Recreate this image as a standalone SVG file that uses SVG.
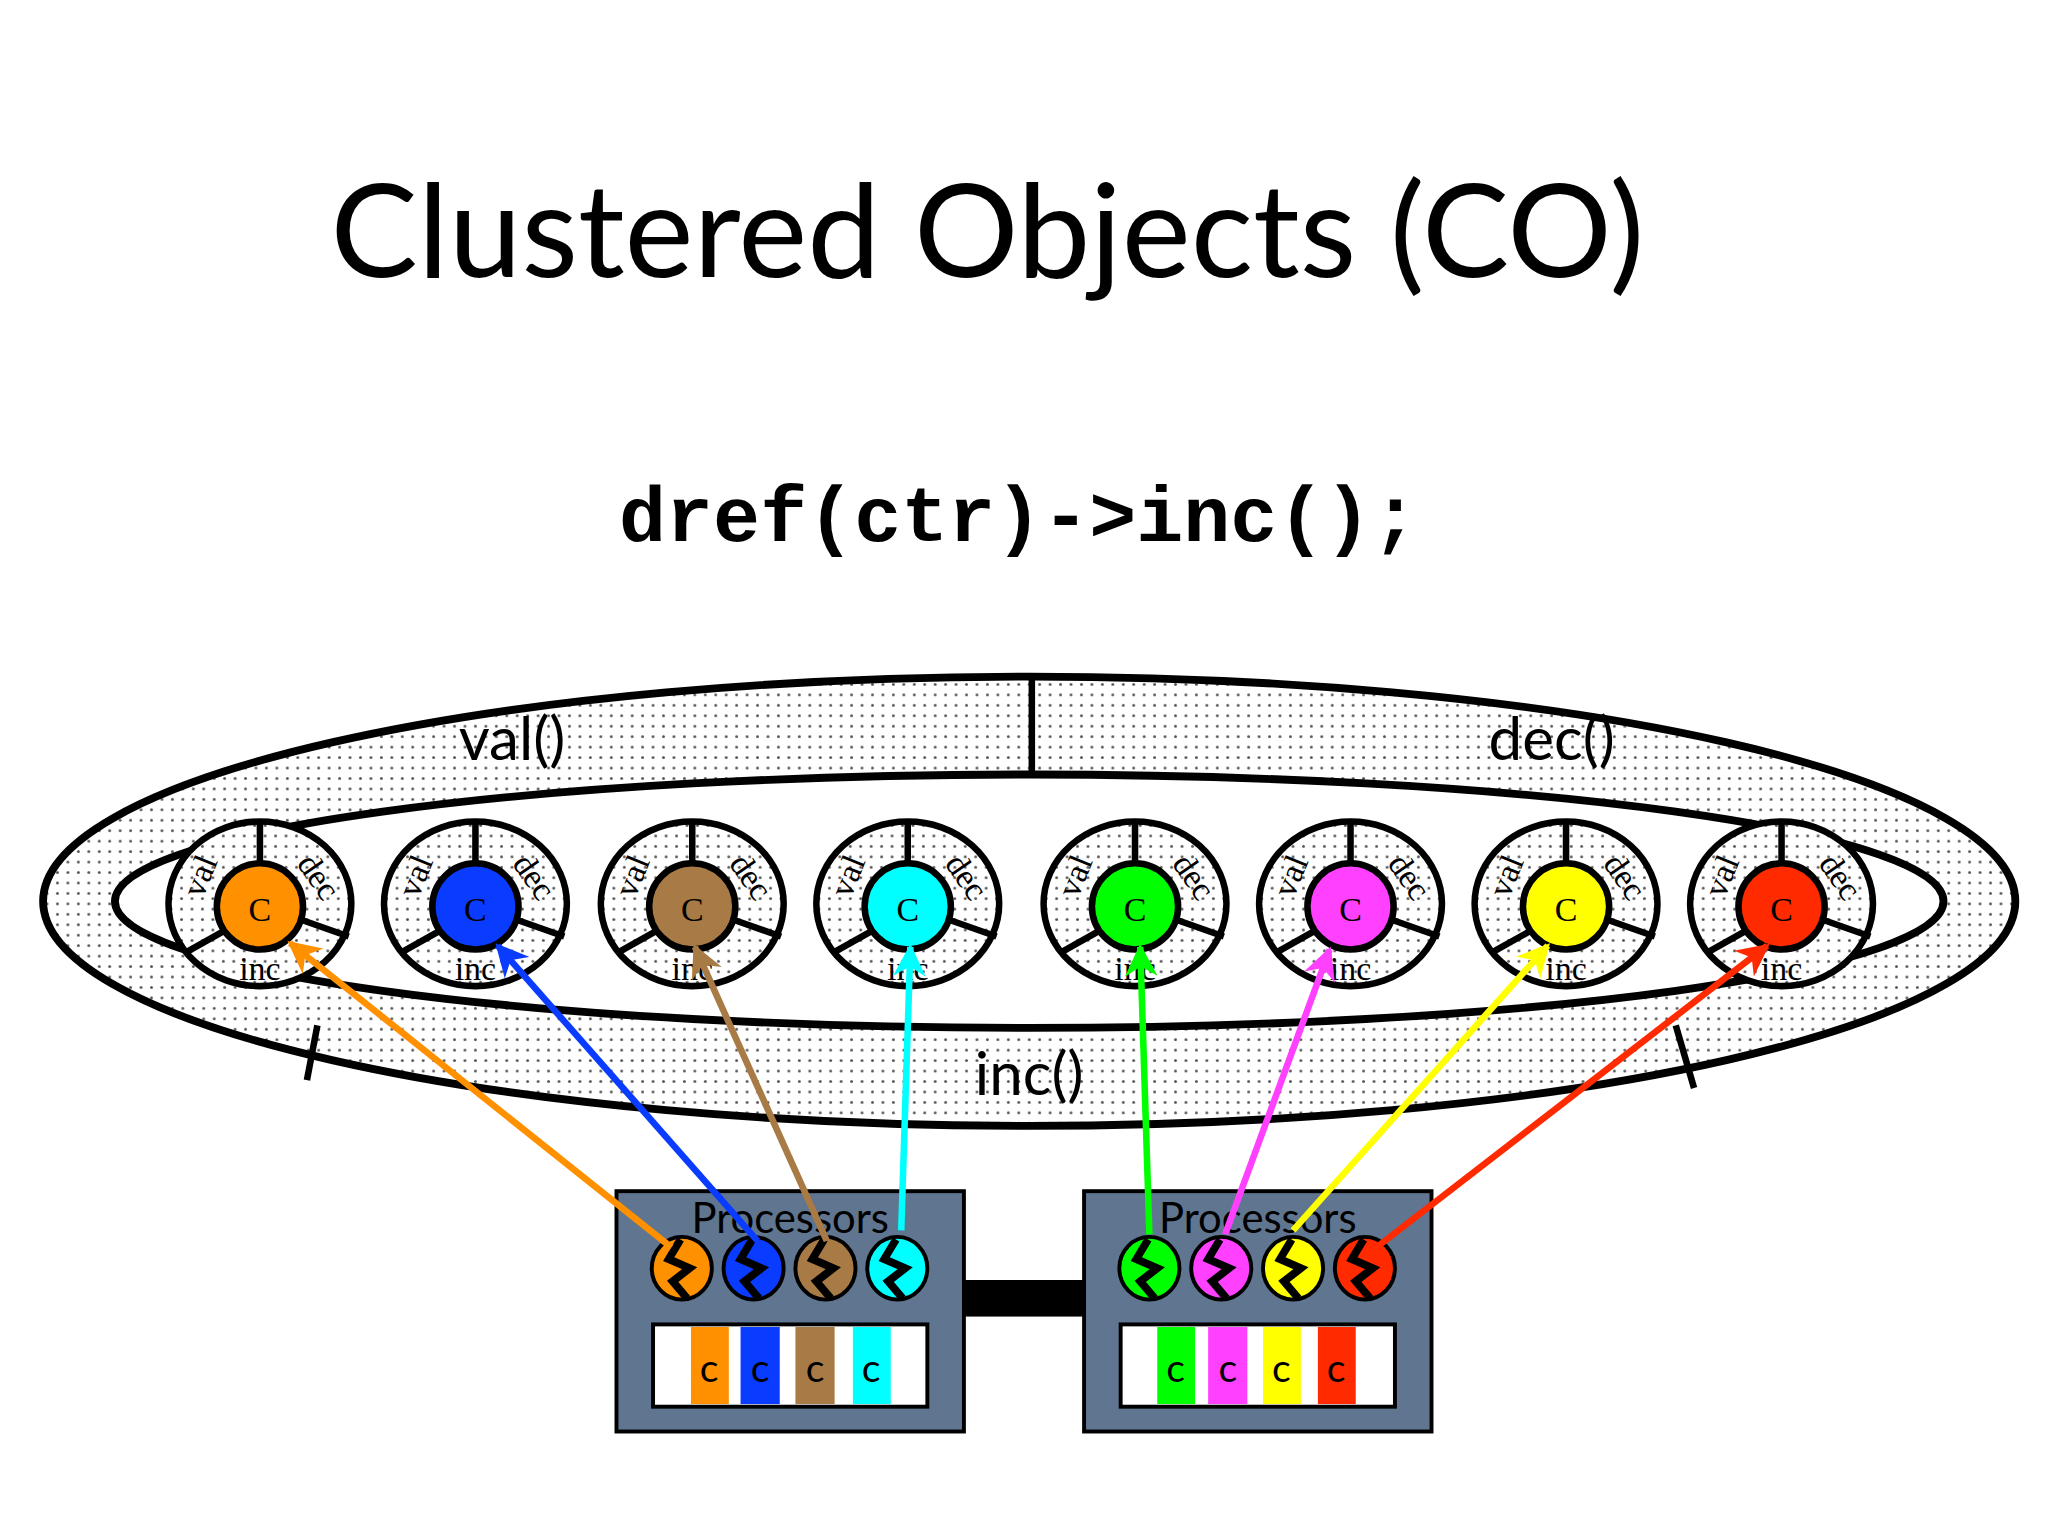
<svg xmlns="http://www.w3.org/2000/svg" width="2048" height="1536" viewBox="0 0 2048 1536">
<defs>
<pattern id="dots" width="8" height="8" patternUnits="userSpaceOnUse"><rect width="8" height="8" fill="#fff"/><circle cx="4" cy="4" r="1.1" fill="#555"/></pattern>
<marker id="m0" viewBox="0 0 10 10" refX="9" refY="5" markerWidth="5" markerHeight="5" orient="auto" markerUnits="strokeWidth"><path d="M0,0 L10,5 L0,10 L3,5z" fill="#ff9000"/></marker>
<marker id="m1" viewBox="0 0 10 10" refX="9" refY="5" markerWidth="5" markerHeight="5" orient="auto" markerUnits="strokeWidth"><path d="M0,0 L10,5 L0,10 L3,5z" fill="#0a3cff"/></marker>
<marker id="m2" viewBox="0 0 10 10" refX="9" refY="5" markerWidth="5" markerHeight="5" orient="auto" markerUnits="strokeWidth"><path d="M0,0 L10,5 L0,10 L3,5z" fill="#a87a45"/></marker>
<marker id="m3" viewBox="0 0 10 10" refX="9" refY="5" markerWidth="5" markerHeight="5" orient="auto" markerUnits="strokeWidth"><path d="M0,0 L10,5 L0,10 L3,5z" fill="#00ffff"/></marker>
<marker id="m4" viewBox="0 0 10 10" refX="9" refY="5" markerWidth="5" markerHeight="5" orient="auto" markerUnits="strokeWidth"><path d="M0,0 L10,5 L0,10 L3,5z" fill="#00ff00"/></marker>
<marker id="m5" viewBox="0 0 10 10" refX="9" refY="5" markerWidth="5" markerHeight="5" orient="auto" markerUnits="strokeWidth"><path d="M0,0 L10,5 L0,10 L3,5z" fill="#ff40ff"/></marker>
<marker id="m6" viewBox="0 0 10 10" refX="9" refY="5" markerWidth="5" markerHeight="5" orient="auto" markerUnits="strokeWidth"><path d="M0,0 L10,5 L0,10 L3,5z" fill="#ffff00"/></marker>
<marker id="m7" viewBox="0 0 10 10" refX="9" refY="5" markerWidth="5" markerHeight="5" orient="auto" markerUnits="strokeWidth"><path d="M0,0 L10,5 L0,10 L3,5z" fill="#ff2a00"/></marker>
<g id="ring">
<ellipse rx="70" ry="63" fill="url(#dots)" stroke="#000" stroke-width="5"/>
<line x1="0" y1="-31" x2="0" y2="-63" stroke="#000" stroke-width="5"/>
<line x1="-26" y1="20" x2="-58" y2="38" stroke="#000" stroke-width="5"/>
<line x1="31" y1="12" x2="68" y2="25" stroke="#000" stroke-width="5"/>
<text x="0" y="58" class="ser" text-anchor="middle">inc</text>
<text class="ser" text-anchor="middle" transform="translate(-38,-18) rotate(-68)">val</text>
<text class="ser" text-anchor="middle" transform="translate(38,-16) rotate(55)">dec</text>
</g>
<path id="bolt" d="M-1,-22 L-10,-7 L6,0 L-7,10 L4,23" fill="none" stroke="#000" stroke-width="6" stroke-linejoin="miter"/>
</defs>
<style>
.ser{font-family:"Liberation Serif",serif;font-size:26px}
.sans{font-family:"Lato","Open Sans",sans-serif}
.conn line{stroke-width:5}
.pc{stroke:#000;stroke-width:3}
.bar{stroke:none}
.c{font-family:"Lato","Open Sans",sans-serif;font-size:30px;text-anchor:middle}
</style>
<rect width="2048" height="1536" fill="#fff"/>
<g transform="scale(1.30612)">
<text x="756" y="212" class="sans" font-size="100" text-anchor="middle">Clustered Objects (CO)</text>
<text x="780" y="414" font-family="'Liberation Mono',monospace" font-weight="bold" font-size="60" text-anchor="middle">dref(ctr)-&gt;inc();</text>

<g id="co">
<ellipse cx="788" cy="690" rx="755" ry="172" fill="url(#dots)" stroke="#000" stroke-width="6"/>
<ellipse cx="788" cy="690" rx="700" ry="97" fill="#fff" stroke="#000" stroke-width="6"/>
<line x1="790" y1="518" x2="790" y2="593" stroke="#000" stroke-width="5"/>
<line x1="243" y1="785" x2="235" y2="827" stroke="#000" stroke-width="5"/>
<line x1="1283" y1="785" x2="1297" y2="833" stroke="#000" stroke-width="5"/>
<text x="392" y="582" class="sans" font-size="46" text-anchor="middle">val()</text>
<text x="1188" y="582" class="sans" font-size="46" text-anchor="middle">dec()</text>
<text x="788" y="838" class="sans" font-size="46" text-anchor="middle">inc()</text>
</g>

<g id="rep0" transform="translate(199,692)"><use href="#ring"/><circle cy="2" r="33" fill="#ff9000" stroke="#000" stroke-width="5"/><text y="13" class="ser" font-size="30" text-anchor="middle">C</text></g>
<g id="rep1" transform="translate(364,692)"><use href="#ring"/><circle cy="2" r="33" fill="#0a3cff" stroke="#000" stroke-width="5"/><text y="13" class="ser" font-size="30" text-anchor="middle">C</text></g>
<g id="rep2" transform="translate(530,692)"><use href="#ring"/><circle cy="2" r="33" fill="#a87a45" stroke="#000" stroke-width="5"/><text y="13" class="ser" font-size="30" text-anchor="middle">C</text></g>
<g id="rep3" transform="translate(695,692)"><use href="#ring"/><circle cy="2" r="33" fill="#00ffff" stroke="#000" stroke-width="5"/><text y="13" class="ser" font-size="30" text-anchor="middle">C</text></g>
<g id="rep4" transform="translate(869,692)"><use href="#ring"/><circle cy="2" r="33" fill="#00ff00" stroke="#000" stroke-width="5"/><text y="13" class="ser" font-size="30" text-anchor="middle">C</text></g>
<g id="rep5" transform="translate(1034,692)"><use href="#ring"/><circle cy="2" r="33" fill="#ff40ff" stroke="#000" stroke-width="5"/><text y="13" class="ser" font-size="30" text-anchor="middle">C</text></g>
<g id="rep6" transform="translate(1199,692)"><use href="#ring"/><circle cy="2" r="33" fill="#ffff00" stroke="#000" stroke-width="5"/><text y="13" class="ser" font-size="30" text-anchor="middle">C</text></g>
<g id="rep7" transform="translate(1364,692)"><use href="#ring"/><circle cy="2" r="33" fill="#ff2a00" stroke="#000" stroke-width="5"/><text y="13" class="ser" font-size="30" text-anchor="middle">C</text></g>

<rect x="736" y="980" width="96" height="28" fill="#000"/>
<g id="procA">
<rect x="472" y="912" width="266" height="184" fill="#5f7590" stroke="#000" stroke-width="3"/>
<text x="605" y="944" class="sans" font-size="32" text-anchor="middle">Processors</text>
<ellipse cx="522" cy="971" rx="23" ry="24" fill="#ff9000" class="pc"/><use href="#bolt" x="522" y="971"/>
<ellipse cx="577" cy="971" rx="23" ry="24" fill="#0a3cff" class="pc"/><use href="#bolt" x="577" y="971"/>
<ellipse cx="632" cy="971" rx="23" ry="24" fill="#a87a45" class="pc"/><use href="#bolt" x="632" y="971"/>
<ellipse cx="687" cy="971" rx="23" ry="24" fill="#00ffff" class="pc"/><use href="#bolt" x="687" y="971"/>
<rect x="500" y="1014" width="210" height="63" fill="#fff" stroke="#000" stroke-width="3"/>
<rect x="529" y="1016" width="29" height="59" fill="#ff9000"/>
<rect x="567" y="1016" width="30" height="59" fill="#0a3cff"/>
<rect x="609" y="1016" width="30" height="59" fill="#a87a45"/>
<rect x="653" y="1016" width="29" height="59" fill="#00ffff"/>
<text x="543" y="1058" class="c">c</text><text x="582" y="1058" class="c">c</text><text x="624" y="1058" class="c">c</text><text x="667" y="1058" class="c">c</text>
</g>
<g id="procB">
<rect x="830" y="912" width="266" height="184" fill="#5f7590" stroke="#000" stroke-width="3"/>
<text x="963" y="944" class="sans" font-size="32" text-anchor="middle">Processors</text>
<ellipse cx="880" cy="971" rx="23" ry="24" fill="#00ff00" class="pc"/><use href="#bolt" x="880" y="971"/>
<ellipse cx="935" cy="971" rx="23" ry="24" fill="#ff40ff" class="pc"/><use href="#bolt" x="935" y="971"/>
<ellipse cx="990" cy="971" rx="23" ry="24" fill="#ffff00" class="pc"/><use href="#bolt" x="990" y="971"/>
<ellipse cx="1045" cy="971" rx="23" ry="24" fill="#ff2a00" class="pc"/><use href="#bolt" x="1045" y="971"/>
<rect x="858" y="1014" width="210" height="63" fill="#fff" stroke="#000" stroke-width="3"/>
<rect x="886" y="1016" width="29" height="59" fill="#00ff00"/>
<rect x="925" y="1016" width="30" height="59" fill="#ff40ff"/>
<rect x="967" y="1016" width="29" height="59" fill="#ffff00"/>
<rect x="1009" y="1016" width="29" height="59" fill="#ff2a00"/>
<text x="900" y="1058" class="c">c</text><text x="940" y="1058" class="c">c</text><text x="981" y="1058" class="c">c</text><text x="1023" y="1058" class="c">c</text>
</g>

<g class="conn">
<line x1="514" y1="955" x2="222" y2="722" stroke="#ff9000" marker-end="url(#m0)"/>
<line x1="580" y1="950" x2="381" y2="724" stroke="#0a3cff" marker-end="url(#m1)"/>
<line x1="633" y1="950" x2="532" y2="725" stroke="#a87a45" marker-end="url(#m2)"/>
<line x1="690" y1="942" x2="697" y2="725" stroke="#00ffff" marker-end="url(#m3)"/>
<line x1="880" y1="945" x2="873" y2="725" stroke="#00ff00" marker-end="url(#m4)"/>
<line x1="938" y1="945" x2="1018" y2="727" stroke="#ff40ff" marker-end="url(#m5)"/>
<line x1="990" y1="942" x2="1185" y2="724" stroke="#ffff00" marker-end="url(#m6)"/>
<line x1="1050" y1="958" x2="1353" y2="724" stroke="#ff2a00" marker-end="url(#m7)"/>
</g>
</g>
</svg>
